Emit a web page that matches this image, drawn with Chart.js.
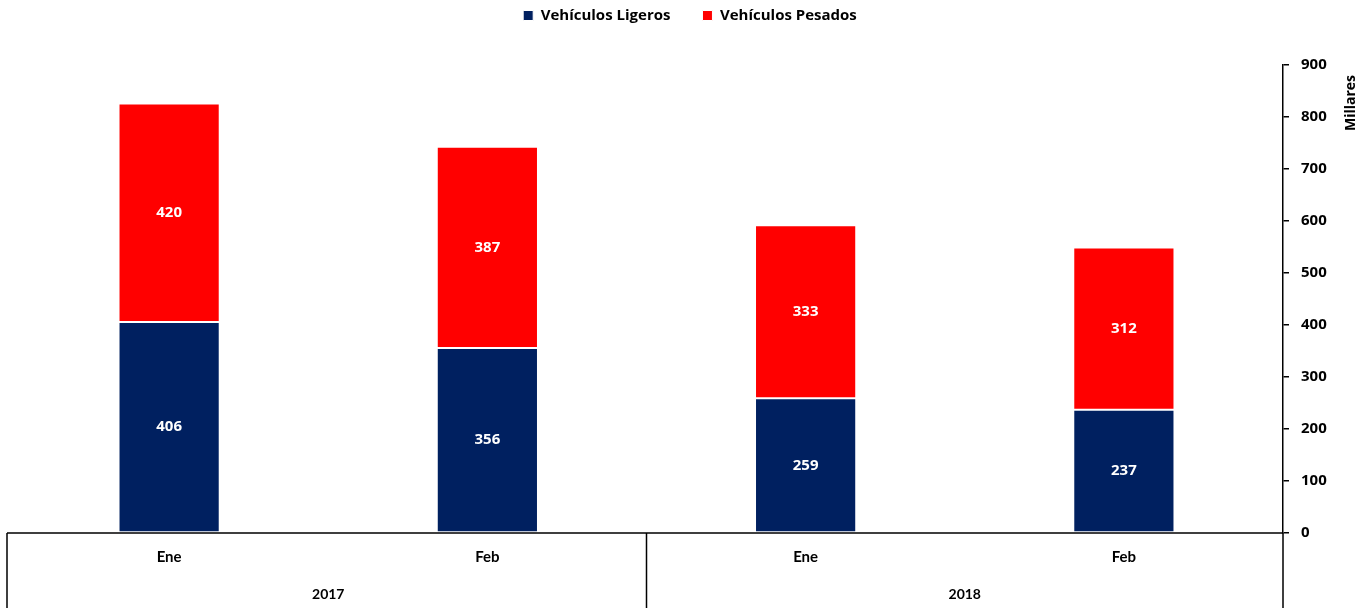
<!DOCTYPE html>
<html>
<head>
<meta charset="utf-8">
<script src="https://cdn.jsdelivr.net/npm/chart.js@4/dist/chart.umd.min.js"></script>
<style>
html,body{margin:0;padding:0;background:#fff;}
#wrap{width:1370px;height:608px;position:relative;}
</style>
</head>
<body>
<div id="wrap"><canvas id="c" width="1370" height="608"></canvas></div>
<script>
const months = ["Ene", "Feb", "Ene", "Feb"];
const years = ["2017", "2018"];
const monthsPerYear = [2, 2];
const ligeros = [406, 356, 259, 237];
const pesados = [420, 387, 333, 312];
const yTicks = [0, 100, 200, 300, 400, 500, 600, 700, 800, 900];

const FONT = "Lato, 'Open Sans', sans-serif";
const NFONT = "'Open Sans', Lato, sans-serif";

const decor = {
  id: 'decor',
  afterInit(chart) {
    const lg = chart.legend;
    if (lg) {
      const f = lg.fit.bind(lg);
      lg.fit = function () { f(); this.height = 89; };
    }
  },
  afterDatasetsDraw(chart) {
    const ctx = chart.ctx;
    ctx.save();
    ctx.fillStyle = '#fff';
    ctx.font = "bold 15px " + NFONT;
    ctx.textAlign = 'center';
    ctx.textBaseline = 'middle';
    chart.data.datasets.forEach((ds, di) => {
      const meta = chart.getDatasetMeta(di);
      meta.data.forEach((bar, j) => {
        const p = bar.getProps(['x', 'y', 'base'], true);
        ctx.fillText(String(ds.data[j]), p.x, (p.y + p.base) / 2);
      });
    });
    ctx.restore();
  },
  afterDraw(chart) {
    const ctx = chart.ctx;
    const ca = chart.chartArea;
    const xs = chart.scales.x;
    const H = chart.height;
    ctx.save();
    ctx.strokeStyle = '#000';
    ctx.lineWidth = 1.5;
    ctx.beginPath();
    ctx.moveTo(ca.left - 3, ca.bottom);
    ctx.lineTo(ca.right, ca.bottom);
    const step = (ca.right - ca.left) / months.length;
    let idx = 0;
    const bounds = [ca.left - 3];
    monthsPerYear.forEach(n => { idx += n; bounds.push(ca.left + step * idx); });
    bounds.forEach((bx, i) => {
      if (i === bounds.length - 1) return;
      ctx.moveTo(bx, ca.bottom);
      ctx.lineTo(bx, H);
    });
    ctx.moveTo(ca.right, ca.bottom);
    ctx.lineTo(ca.right, H);
    ctx.stroke();
    ctx.fillStyle = '#000';
    ctx.font = "bold 14px " + FONT;
    ctx.textAlign = 'center';
    ctx.textBaseline = 'middle';
    let start = 0;
    years.forEach((y, i) => {
      const a = xs.getPixelForValue(start);
      const b = xs.getPixelForValue(start + monthsPerYear[i] - 1);
      ctx.fillText(y, (a + b) / 2, ca.bottom + 61);
      start += monthsPerYear[i];
    });
    ctx.translate(ca.right + 68, ca.top + 38);
    ctx.rotate(-Math.PI / 2);
    ctx.font = "bold 14px " + NFONT;
    ctx.fillText('Millares', 0, 0);
    ctx.restore();
  }
};

new Chart(document.getElementById('c'), {
  type: 'bar',
  data: {
    labels: months,
    datasets: [
      { label: 'Vehículos Ligeros', data: ligeros, backgroundColor: '#002060', borderColor: '#ffffff', borderWidth: 1, borderSkipped: false, barPercentage: 0.318, categoryPercentage: 1 },
      { label: 'Vehículos Pesados', data: pesados, backgroundColor: '#ff0000', borderColor: '#ffffff', borderWidth: 1, borderSkipped: false, barPercentage: 0.318, categoryPercentage: 1 }
    ]
  },
  options: {
    responsive: false,
    animation: false,
    events: [],
    layout: { padding: { left: 10, right: 0, top: -24, bottom: 0 } },
    plugins: {
      legend: {
        position: 'top',
        labels: {
          color: '#000',
          font: { family: NFONT, size: 15, weight: 'bold' },
          boxWidth: 10, boxHeight: 10, padding: 32
        }
      },
      tooltip: { enabled: false }
    },
    scales: {
      x: {
        stacked: true,
        grid: { display: false, drawTicks: false },
        border: { display: false },
        ticks: { color: '#000', font: { family: FONT, size: 15, weight: 'bold' }, padding: 15, maxRotation: 0 },
        afterFit(s) { s.height = 75; }
      },
      y: {
        stacked: true,
        position: 'right',
        min: 0, max: 900,
        afterBuildTicks(s) { s.ticks = yTicks.map(v => ({ value: v })); },
        grid: { drawOnChartArea: false, drawTicks: true, tickLength: 6, color: '#000', lineWidth: 1.5 },
        border: { display: true, color: '#000', width: 1.5 },
        ticks: { color: '#000', font: { family: NFONT, size: 15, weight: 'bold' }, padding: 12 },
        afterFit(s) { s.width = 87; }
      }
    }
  },
  plugins: [decor]
});
</script>
</body>
</html>
